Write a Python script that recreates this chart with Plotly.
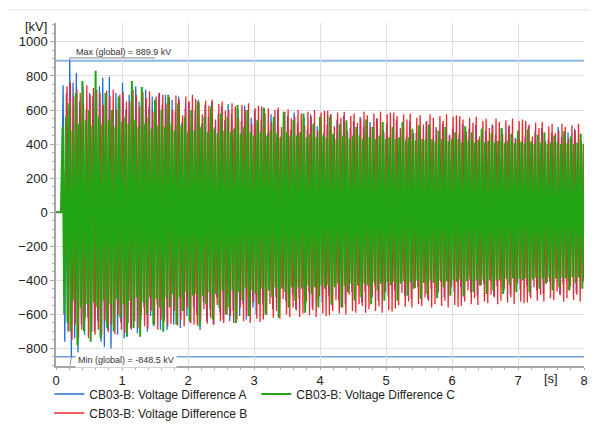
import plotly.graph_objects as go

# ---------------- data ----------------
TIME_STEP = 0.025           # s between a positive peak and the next negative peak
A_START, B_START, C_START = 0.008, 0.017, 0.0
PRE_EVENT = [0, 0, 0, 0]    # kV before the switching event

MAX_GLOBAL = 889.9
MIN_GLOBAL = -848.5

# Voltage Difference A (blue): positive peaks / negative peaks [kV], one row = 0.5 s
A_UP = [745, 700, 889.9, 760, 818, 650, 740, 600, 700, 680,
        620, 740, 790, 680, 795, 560, 700, 640, 760, 600,
        690, 600, 740, 650, 560, 720, 620, 680, 540, 700,
        630, 690, 550, 660, 590, 680, 530, 610, 650, 570,
        600, 660, 520, 630, 560, 650, 500, 580, 620, 540,
        635, 575, 495, 605, 535, 625, 475, 555, 595, 515,
        545, 605, 465, 575, 505, 595, 445, 525, 565, 485,
        585, 525, 445, 555, 485, 575, 425, 505, 545, 465,
        515, 575, 435, 545, 475, 565, 415, 495, 535, 455,
        560, 500, 420, 530, 460, 550, 400, 480, 520, 440,
        485, 545, 405, 515, 445, 535, 385, 465, 505, 425,
        530, 470, 390, 500, 430, 520, 370, 450, 490, 410,
        460, 520, 380, 490, 420, 510, 360, 440, 480, 400,
        515, 455, 375, 485, 415, 505, 355, 435, 475, 395,
        445, 505, 365, 475, 405, 495, 345, 425, 465, 385,
        500, 440, 360, 470, 400, 490, 340, 420, 460, 380]
A_LO = [-760, -700, -848.5, -740, -825, -660, -720, -620, -690, -700,
        -640, -760, -790, -690, -800, -580, -720, -650, -740, -610,
        -680, -600, -710, -640, -560, -700, -610, -670, -540, -690,
        -620, -690, -540, -660, -580, -680, -520, -610, -650, -560,
        -600, -692, -530, -640, -570, -660, -500, -590, -630, -550,
        -640, -580, -500, -610, -540, -630, -480, -560, -600, -520,
        -540, -600, -460, -570, -500, -590, -440, -520, -560, -480,
        -570, -510, -430, -540, -470, -560, -410, -490, -530, -450,
        -490, -550, -410, -520, -450, -540, -390, -470, -510, -430,
        -530, -470, -390, -500, -430, -520, -370, -450, -490, -410,
        -460, -520, -380, -490, -420, -510, -360, -440, -480, -400,
        -510, -450, -370, -480, -410, -500, -350, -430, -470, -390,
        -440, -500, -360, -470, -400, -490, -340, -420, -460, -380,
        -495, -435, -355, -465, -395, -485, -335, -415, -455, -375,
        -430, -490, -350, -460, -390, -480, -330, -410, -450, -370,
        -485, -425, -345, -455, -385, -475, -325, -405, -445, -365]

# Voltage Difference B (red)
B_UP = [250, 740, 766, 680, 720, 700, 640, 745, 690, 730,
        718, 700, 630, 715, 680, 720, 600, 690, 705, 650,
        650, 718, 690, 620, 705, 670, 710, 590, 680, 700,
        690, 640, 675, 600, 685, 660, 570, 680, 650, 690,
        665, 645, 575, 655, 625, 660, 545, 635, 650, 595,
        600, 640, 620, 550, 630, 600, 640, 520, 610, 625,
        620, 580, 610, 530, 600, 615, 500, 590, 605, 550,
        560, 600, 580, 510, 590, 560, 600, 480, 585, 595,
        595, 575, 505, 585, 555, 590, 475, 565, 580, 525,
        550, 590, 570, 500, 580, 550, 590, 470, 575, 585,
        585, 565, 495, 575, 545, 580, 465, 555, 570, 515,
        535, 575, 555, 485, 565, 535, 575, 455, 560, 570,
        565, 545, 475, 555, 525, 560, 445, 535, 550, 495,
        510, 550, 530, 460, 540, 510, 550, 430, 535, 545,
        535, 515, 445, 525, 495, 530, 415, 505, 520, 465,
        480, 520, 500, 430, 510, 480, 520, 400, 505, 515]
B_LO = [-250, -700, -750, -660, -735, -690, -620, -740, -700, -720,
        -690, -720, -640, -705, -660, -715, -600, -690, -710, -650,
        -690, -640, -680, -600, -670, -685, -580, -660, -690, -630,
        -640, -670, -655, -580, -665, -630, -670, -560, -650, -660,
        -665, -640, -570, -655, -620, -660, -545, -640, -650, -600,
        -610, -650, -630, -560, -640, -610, -650, -530, -625, -645,
        -630, -600, -540, -620, -580, -625, -510, -600, -615, -560,
        -575, -615, -595, -525, -605, -575, -615, -495, -595, -610,
        -605, -580, -515, -595, -560, -600, -485, -580, -590, -540,
        -550, -590, -570, -500, -580, -550, -590, -470, -575, -585,
        -565, -545, -475, -555, -525, -560, -445, -540, -550, -500,
        -520, -560, -540, -470, -550, -520, -560, -440, -545, -555,
        -550, -525, -460, -540, -505, -545, -430, -525, -535, -485,
        -500, -540, -520, -450, -530, -500, -540, -420, -525, -535,
        -530, -505, -440, -520, -485, -525, -410, -505, -515, -465,
        -485, -525, -505, -435, -515, -485, -525, -405, -510, -520]

# Voltage Difference C (green)
C_UP = [500, 560, 640, 480, 700, 520, 770, 540, 600, 510,
        830, 560, 520, 700, 540, 600, 500, 680, 530, 560,
        520, 771, 540, 500, 735, 520, 560, 490, 660, 510,
        600, 500, 690, 520, 480, 640, 510, 560, 470, 600,
        480, 650, 500, 560, 470, 620, 490, 460, 580, 480,
        560, 470, 490, 630, 460, 500, 600, 470, 450, 540,
        470, 613, 450, 480, 560, 460, 440, 590, 470, 450,
        540, 450, 470, 580, 440, 460, 520, 440, 560, 450,
        440, 560, 460, 430, 520, 450, 540, 430, 450, 500,
        450, 430, 545, 440, 500, 430, 450, 530, 430, 440,
        500, 430, 440, 530, 420, 440, 490, 420, 510, 430,
        425, 515, 430, 415, 480, 430, 500, 415, 430, 470,
        430, 410, 505, 425, 470, 410, 425, 490, 410, 420,
        465, 410, 420, 495, 405, 420, 460, 405, 480, 415,
        405, 485, 415, 400, 455, 410, 470, 400, 410, 450,
        410, 400, 475, 405, 445, 400, 410, 460, 400, 440]
C_LO = [-600, -650, -700, -520, -780, -560, -700, -540, -760, -530,
        -560, -740, -520, -680, -540, -700, -510, -620, -540, -731,
        -520, -680, -500, -731, -530, -600, -500, -660, -510, -560,
        -702, -500, -560, -480, -660, -500, -580, -470, -640, -490,
        -480, -672, -490, -540, -470, -630, -480, -560, -460, -600,
        -560, -460, -650, -470, -520, -450, -610, -460, -480, -540,
        -450, -600, -460, -500, -440, -620, -450, -470, -560, -440,
        -520, -440, -450, -590, -430, -480, -440, -560, -430, -450,
        -430, -540, -440, -420, -560, -430, -470, -420, -520, -430,
        -500, -420, -430, -540, -410, -460, -420, -520, -410, -430,
        -410, -520, -420, -405, -490, -410, -450, -400, -510, -415,
        -480, -400, -415, -505, -400, -440, -405, -490, -400, -410,
        -395, -490, -405, -395, -470, -400, -430, -395, -480, -400,
        -460, -395, -400, -480, -390, -425, -390, -470, -390, -400,
        -390, -470, -395, -385, -450, -390, -420, -385, -460, -390,
        -440, -385, -390, -460, -380, -415, -385, -450, -380, -390]

X_TICKS = [0, 1, 2, 3, 4, 5, 6, 7, 8]
Y_TICKS = [-800, -600, -400, -200, 0, 200, 400, 600, 800, 1000]

NAMES = ["CB03-B: Voltage Difference A", "CB03-B: Voltage Difference B",
         "CB03-B: Voltage Difference C"]

# ---------------- styling ----------------
BLUE, RED, GREEN = "#1f6fd1", "#f0262a", "#22a514"
FONT = "Arial, Liberation Sans, sans-serif"


def build(up, lo):
    vals = list(PRE_EVENT)
    for u, l in zip(up, lo):
        vals += [u, l]
    return vals


A = build(A_UP, A_LO)
B = build(B_UP, B_LO)
C = build(C_UP, C_LO)

fig = go.Figure()
fig.add_trace(go.Scatter(x0=A_START, dx=TIME_STEP, y=A, mode="lines", name=NAMES[0],
                         line=dict(color=BLUE, width=1.3), legendrank=1))
fig.add_trace(go.Scatter(x0=B_START, dx=TIME_STEP, y=B, mode="lines", name=NAMES[1],
                         line=dict(color=RED, width=1.3), legendrank=3))
fig.add_trace(go.Scatter(x0=C_START, dx=TIME_STEP, y=C, mode="lines", name=NAMES[2],
                         line=dict(color=GREEN, width=2.0), legendrank=2))

t_max = A_START + A.index(MAX_GLOBAL) * TIME_STEP
t_min = A_START + A.index(MIN_GLOBAL) * TIME_STEP

axis_common = dict(showgrid=True, gridcolor="#dedede", gridwidth=1,
                   showline=True, linecolor="#a6a6a6", linewidth=1.5,
                   ticks="outside", tickcolor="#a6a6a6",
                   zeroline=False, tickfont=dict(size=13, color="#222"),
                   automargin=False)

# the page adds an 8 px body margin, so the figure is 8 px smaller on each side
fig.update_layout(
    width=590, height=416,
    margin=dict(l=48, r=14, t=15, b=58),
    paper_bgcolor="white", plot_bgcolor="white",
    font=dict(family=FONT, color="#222"),
    showlegend=True,
    legend=dict(orientation="h", xref="container", x=0.070, xanchor="left",
                yref="container", y=0.107, yanchor="top",
                entrywidth=162, font=dict(size=12, color="#222"),
                traceorder="normal", bgcolor="rgba(0,0,0,0)", itemwidth=30,
                tracegroupgap=0),
    xaxis=dict(range=[0, 8], tickvals=X_TICKS, ticklen=2,
               minor=dict(dtick=0.2, ticks="outside", ticklen=2, tickcolor="#b0b0b0"),
               **axis_common),
    yaxis=dict(range=[-903, 1111], tickvals=Y_TICKS, ticklen=4,
               minor=dict(dtick=50, tick0=0, ticks="outside", ticklen=2, tickcolor="#b0b0b0"),
               **axis_common),
)

shapes = [
    # outer frame of the chart
    dict(type="rect", xref="paper", yref="paper", x0=-0.092, x1=1.2, y0=-0.5, y1=1.038,
         line=dict(color="#e2e2e2", width=1), layer="below"),
    dict(type="line", xref="x domain", x0=0, x1=1, yref="y", y0=MAX_GLOBAL, y1=MAX_GLOBAL,
         line=dict(color="#8fb5e4", width=2), layer="below"),
    dict(type="line", xref="x domain", x0=0, x1=1, yref="y", y0=MIN_GLOBAL, y1=MIN_GLOBAL,
         line=dict(color="#6fa0dd", width=1.6), layer="below"),
    dict(type="path", xref="x", yref="y",
         path=f"M {t_max},{MAX_GLOBAL} L {t_max},{MAX_GLOBAL + 16} L 1.5,{MAX_GLOBAL + 16}",
         line=dict(color="#8a8a8a", width=1)),
    dict(type="line", xref="x", yref="y", x0=t_min, x1=t_min - 0.02,
         y0=MIN_GLOBAL, y1=MIN_GLOBAL - 50, line=dict(color="#8a8a8a", width=1)),
]
fig.update_layout(shapes=shapes)

fig.add_annotation(x=t_max + 0.06, y=MAX_GLOBAL + 16, xref="x", yref="y",
                   text=f"Max (global) = {MAX_GLOBAL} kV", showarrow=False,
                   xanchor="left", yanchor="bottom", yshift=-1,
                   font=dict(size=9, color="#333"))
fig.add_annotation(x=t_min + 0.05, y=MIN_GLOBAL, xref="x", yref="y",
                   text=f"Min (global) = {MIN_GLOBAL} kV", showarrow=False,
                   xanchor="left", yanchor="top", yshift=5,
                   bgcolor="white", borderpad=2,
                   font=dict(size=9, color="#333"))
fig.add_annotation(x=0, y=1, xref="paper", yref="paper", text="[kV]", showarrow=False,
                   xanchor="right", yanchor="middle", xshift=-7, yshift=-3,
                   font=dict(size=13, color="#222"))
fig.add_annotation(x=7.5, y=0, xref="x", yref="paper", text="[s]", showarrow=False,
                   xanchor="center", yanchor="top", yshift=-3,
                   font=dict(size=13, color="#222"))

fig.write_html("out.html")
